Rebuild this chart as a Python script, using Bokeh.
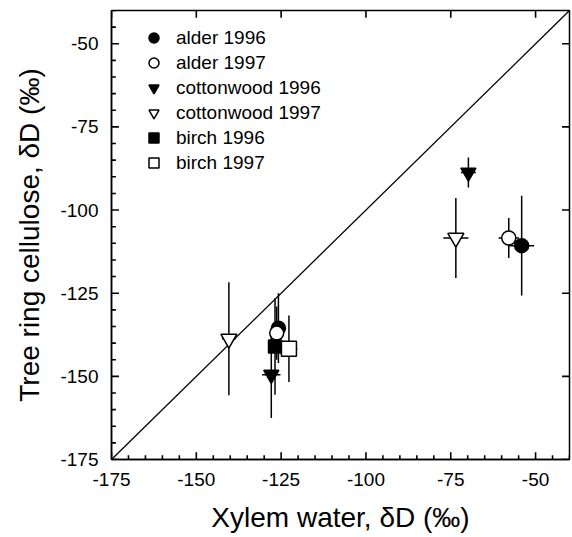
from bokeh.plotting import figure
from bokeh.models import Range1d, FixedTicker, Legend, LegendItem
from bokeh.embed import file_html
from bokeh.resources import INLINE

# ---- data ----
alder96_x = [-125.8, -54.1]
alder96_y = [-135.5, -110.7]
alder96_xerr = [1.5, 3.7]
alder96_yerr = [10.5, 15.0]

alder97_x = [-126.3, -57.9]
alder97_y = [-137.0, -108.4]
alder97_xerr = [1.5, 3.0]
alder97_yerr = [8.0, 6.0]

cotton96_x = [-127.9, -69.8]
cotton96_y = [-149.5, -88.7]
cotton96_xerr = [2.7, 2.2]
cotton96_yerr = [13.0, 4.5]

cotton97_x = [-140.4, -73.5]
cotton97_y = [-138.7, -108.4]
cotton97_xerr = [2.0, 3.7]
cotton97_yerr = [17.0, 12.0]

birch96_x = [-126.8]
birch96_y = [-141.0]
birch96_xerr = [1.5]
birch96_yerr = [14.5]

birch97_x = [-122.7]
birch97_y = [-141.7]
birch97_xerr = [2.5]
birch97_yerr = [10.0]

axis_min, axis_max = -175, -40
one_to_one = [axis_min, axis_max]
major_ticks = [-175, -150, -125, -100, -75, -50]
tick_labels = ["-175", "-150", "-125", "-100", "-75", "-50"]
minor_ticks = [t for t in range(-175, -39, 5) if t not in major_ticks]

FONT = "Liberation Sans"
MAJOR_LEN = 2.2   # inward tick length in axis units (~7 px)
MINOR_LEN = 1.3   # (~4 px)

p = figure(width=572, height=537, output_backend="svg", toolbar_location=None,
           x_range=Range1d(axis_min, axis_max), y_range=Range1d(axis_min, axis_max),
           min_border_left=111, min_border_right=3, min_border_top=10, min_border_bottom=78)
p.grid.visible = False
p.outline_line_color = "black"
p.outline_line_width = 1.5
p.background_fill_color = "white"
p.border_fill_color = "white"

for ax in (p.xaxis[0], p.yaxis[0]):
    ax.ticker = FixedTicker(ticks=major_ticks, minor_ticks=[])
    ax.major_label_overrides = dict(zip(major_ticks, tick_labels))
    ax.major_tick_in = 0
    ax.major_tick_out = 0
    ax.minor_tick_in = 0
    ax.minor_tick_out = 0
    ax.axis_line_width = 1.5
    ax.major_label_text_font = FONT
    ax.major_label_text_font_size = "19px"
    ax.major_label_text_color = "black"
    ax.axis_label_text_font = FONT
    ax.axis_label_text_font_size = "28px"
    ax.axis_label_text_font_style = "normal"
    ax.axis_label_text_color = "black"
    ax.major_label_standoff = 13

p.xaxis.axis_label = "Xylem water, δD (‰)"
p.yaxis.axis_label = "Tree ring cellulose, δD (‰)"
p.xaxis.axis_label_standoff = 13
p.yaxis.axis_label_standoff = 12
p.yaxis.major_label_orientation = "horizontal"

# inward tick marks along the frame edges
tk = dict(line_color="black", line_width=1.6)
n_maj, n_min = len(major_ticks), len(minor_ticks)
p.segment(x0=major_ticks, x1=major_ticks, y0=[axis_min] * n_maj, y1=[axis_min + MAJOR_LEN] * n_maj, **tk)
p.segment(x0=minor_ticks, x1=minor_ticks, y0=[axis_min] * n_min, y1=[axis_min + MINOR_LEN] * n_min, **tk)
p.segment(y0=major_ticks, y1=major_ticks, x0=[axis_min] * n_maj, x1=[axis_min + MAJOR_LEN] * n_maj, **tk)
p.segment(y0=minor_ticks, y1=minor_ticks, x0=[axis_min] * n_min, x1=[axis_min + MINOR_LEN] * n_min, **tk)
p.segment(x0=major_ticks, x1=major_ticks, y0=[axis_max] * n_maj, y1=[axis_max - MAJOR_LEN] * n_maj, **tk)
p.segment(y0=major_ticks, y1=major_ticks, x0=[axis_max] * n_maj, x1=[axis_max - MAJOR_LEN] * n_maj, **tk)

# 1:1 line
p.line(one_to_one, one_to_one, line_color="black", line_width=1.3)

series = [
    ("alder 1996", alder96_x, alder96_y, alder96_xerr, alder96_yerr, "circle", "black", 14),
    ("alder 1997", alder97_x, alder97_y, alder97_xerr, alder97_yerr, "circle", "white", 14),
    ("cottonwood 1996", cotton96_x, cotton96_y, cotton96_xerr, cotton96_yerr, "inverted_triangle", "black", 15),
    ("cottonwood 1997", cotton97_x, cotton97_y, cotton97_xerr, cotton97_yerr, "inverted_triangle", "white", 16),
    ("birch 1996", birch96_x, birch96_y, birch96_xerr, birch96_yerr, "square", "black", 13),
    ("birch 1997", birch97_x, birch97_y, birch97_xerr, birch97_yerr, "square", "white", 15),
]

# error bars first
for name, xs, ys, xe, ye, mk, fill, sz in series:
    p.segment(x0=xs, x1=xs, y0=[y - e for y, e in zip(ys, ye)], y1=[y + e for y, e in zip(ys, ye)],
              line_color="black", line_width=1.5)
    p.segment(x0=[x - e for x, e in zip(xs, xe)], x1=[x + e for x, e in zip(xs, xe)], y0=ys, y1=ys,
              line_color="black", line_width=1.5)

items = []
for name, xs, ys, xe, ye, mk, fill, sz in series:
    r = p.scatter(xs, ys, marker=mk, size=sz, fill_color=fill, line_color="black", line_width=1.5)
    items.append(LegendItem(label=name, renderers=[r]))

legend = Legend(items=items, location=(30, 284), padding=0, margin=0,
                spacing=0, glyph_width=25, glyph_height=25, label_height=25,
                label_standoff=10, border_line_color=None, background_fill_alpha=0,
                label_text_font=FONT, label_text_font_size="19px", label_text_color="black")
p.add_layout(legend)

open("out.html", "w").write(file_html(p, INLINE))
